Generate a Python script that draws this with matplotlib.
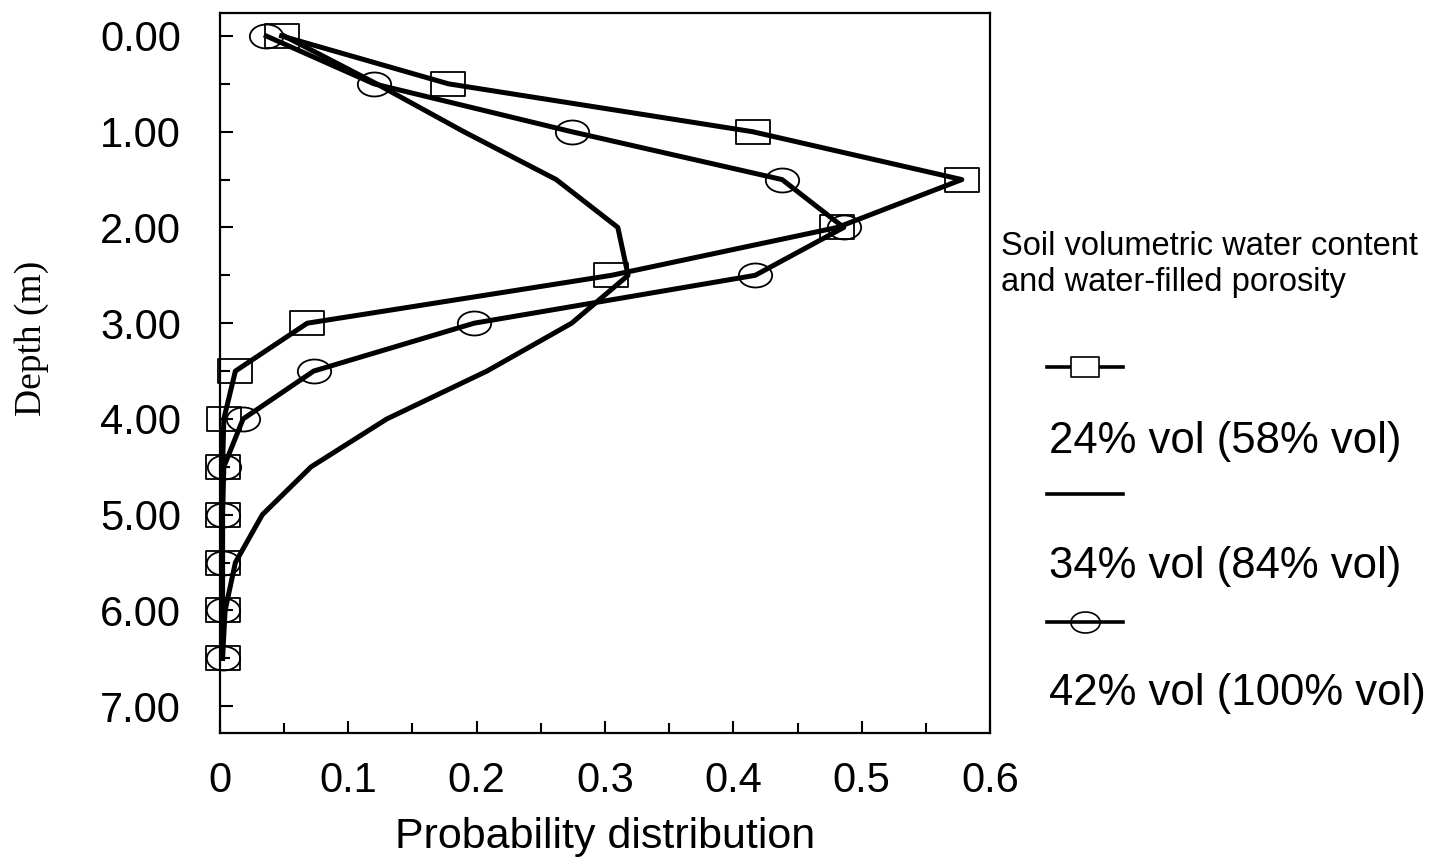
import matplotlib
matplotlib.use('Agg')
import matplotlib.pyplot as plt
import numpy as np
from matplotlib.path import Path
from matplotlib.ticker import MultipleLocator, FormatStrFormatter


# depth of each sample (m)
depth = [0.0, 0.5, 1.0, 1.5, 2.0, 2.5, 3.0, 3.5, 4.0, 4.5, 5.0, 5.5, 6.0, 6.5]

# probability distribution for the three soil moisture levels
p_24 = [0.048, 0.178, 0.415, 0.578, 0.481, 0.305, 0.068, 0.012, 0.003,
        0.002, 0.002, 0.002, 0.002, 0.002]
p_34 = [0.050, 0.122, 0.190, 0.262, 0.310, 0.318, 0.274, 0.208, 0.130,
        0.071, 0.033, 0.012, 0.004, 0.002]
p_42 = [0.036, 0.120, 0.274, 0.438, 0.486, 0.417, 0.198, 0.073, 0.018,
        0.003, 0.002, 0.002, 0.002, 0.002]

labels = ['24% vol (58% vol)', '34% vol (84% vol)', '42% vol (100% vol)']
legend_title = ['Soil volumetric water content', 'and water-filled porosity']

xticks = [0, 0.1, 0.2, 0.3, 0.4, 0.5, 0.6]
xticklabels = ['0', '0.1', '0.2', '0.3', '0.4', '0.5', '0.6']


# wide box and wide ellipse markers
box = Path([(-0.72, -0.5), (0.72, -0.5), (0.72, 0.5), (-0.72, 0.5), (-0.72, -0.5)],
           [Path.MOVETO, Path.LINETO, Path.LINETO, Path.LINETO, Path.CLOSEPOLY])
uc = Path.unit_circle()
oval = Path(uc.vertices * np.array([1.0, 0.72]), uc.codes)

sans = 'Liberation Sans'
serif = 'Liberation Serif'

fig = plt.figure(figsize=(14.54, 8.65), dpi=100)
ax = fig.add_axes([0.1513, 0.1526, 0.5296, 0.8324])

style = dict(color='black', lw=3.6, clip_on=False, solid_joinstyle='round',
             markerfacecolor='none', markeredgecolor='black', markeredgewidth=1.3)
ax.plot(p_24, depth, marker=box, markersize=24.5, **style)
ax.plot(p_34, depth, **style)
ax.plot(p_42, depth, marker=oval, markersize=24, **style)

ax.set_xlim(0, 0.6)
ax.set_ylim(7.28, -0.24)
ax.set_xticks(xticks)
ax.set_xticklabels(xticklabels)
ax.xaxis.set_minor_locator(MultipleLocator(0.05))
ax.yaxis.set_major_locator(MultipleLocator(1))
ax.yaxis.set_minor_locator(MultipleLocator(0.5))
ax.yaxis.set_major_formatter(FormatStrFormatter('%.2f'))

ax.tick_params(which='both', direction='in', width=1.5, top=False, right=False)
ax.tick_params(which='major', length=9)
ax.tick_params(which='minor', length=7)
ax.tick_params(axis='y', which='major', pad=28, labelsize=30)
ax.tick_params(axis='x', which='major', pad=20, labelsize=30)
for lab in ax.get_xticklabels() + ax.get_yticklabels():
    lab.set_fontfamily(sans)
for sp in ax.spines.values():
    sp.set_linewidth(1.6)

ax.set_xlabel('Probability distribution', fontsize=31, family=sans, labelpad=12)
ax.set_ylabel('Depth (m)', fontsize=27, family=serif)
ax.yaxis.set_label_coords(-0.222, 0.548)

# legend block to the right of the plot, laid out in pixel units
lax = fig.add_axes([0, 0, 1, 1])
lax.set_xlim(0, 1454)
lax.set_ylim(865, 0)
lax.axis('off')

lax.text(1001, 255, legend_title[0], fontsize=23.5, family=sans, va='baseline')
lax.text(1001, 291, legend_title[1], fontsize=23.5, family=sans, va='baseline')

hx = [1047, 1085, 1123]
lax.plot(hx, [367] * 3, color='black', lw=2.6, marker=box, markersize=20,
         markevery=[1], markerfacecolor='white', markeredgewidth=1.2)
lax.plot(hx, [494] * 3, color='black', lw=2.6)
lax.plot(hx, [622] * 3, color='black', lw=2.6, marker=oval, markersize=21,
         markevery=[1], markerfacecolor='none', markeredgewidth=1.2)

for lab, yb in zip(labels, [453, 578, 705]):
    lax.text(1049, yb, lab, fontsize=31.5, family=sans, va='baseline')

fig.savefig('out.png', dpi=100)
